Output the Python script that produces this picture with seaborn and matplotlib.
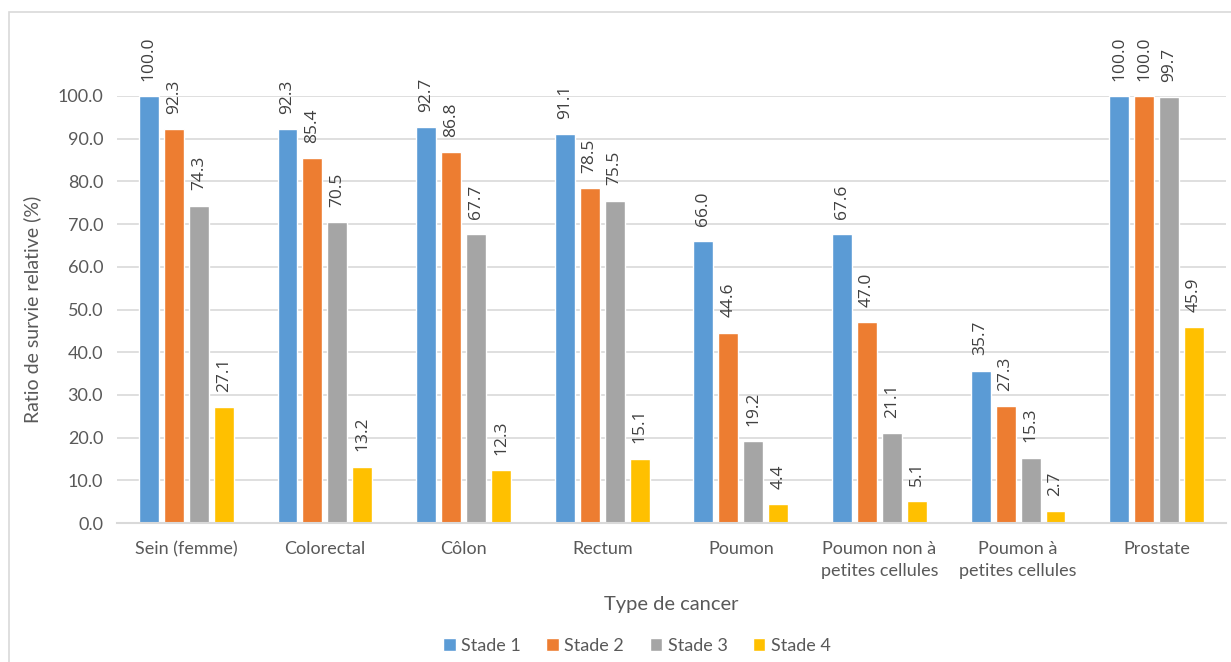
import numpy as np
import pandas as pd
import matplotlib
matplotlib.use("Agg")
import matplotlib.pyplot as plt
from matplotlib.patches import Rectangle
import seaborn as sns

categories = ["Sein (femme)", "Colorectal", "Côlon", "Rectum", "Poumon",
              "Poumon non à\npetites cellules", "Poumon à\npetites cellules", "Prostate"]
stades = ["Stade 1", "Stade 2", "Stade 3", "Stade 4"]
stade1 = [100.0, 92.3, 92.7, 91.1, 66.0, 67.6, 35.7, 100.0]
stade2 = [92.3, 85.4, 86.8, 78.5, 44.6, 47.0, 27.3, 100.0]
stade3 = [74.3, 70.5, 67.7, 75.5, 19.2, 21.1, 15.3, 99.7]
stade4 = [27.1, 13.2, 12.3, 15.1, 4.4, 5.1, 2.7, 45.9]
y_ticks = [0, 10, 20, 30, 40, 50, 60, 70, 80, 90, 100]
colors = ["#5B9BD5", "#ED7D31", "#A5A5A5", "#FFC000"]

rows = []
for stade, vals in zip(stades, [stade1, stade2, stade3, stade4]):
    for cat, v in zip(categories, vals):
        rows.append({"Type de cancer": cat, "Stade": stade, "Valeur": v})
df = pd.DataFrame(rows)

sns.set_theme(style="white")
plt.rcParams["font.family"] = ["Lato", "DejaVu Sans"]

W, H = 1231, 662
fig = plt.figure(figsize=(W / 100, H / 100), dpi=100)
ax = fig.add_axes([117 / W, 1 - 523 / H, (1226 - 117) / W, (523 - 96) / H])

sns.barplot(data=df, x="Type de cancer", y="Valeur", hue="Stade",
            order=categories, hue_order=stades, palette=colors,
            width=0.72, gap=0.2, saturation=1, ax=ax, legend=True)

ax.set_ylim(0, 100)
ax.set_xlim(-0.5, len(categories) - 0.5)
ax.set_yticks(y_ticks)
ax.set_yticklabels([f"{t:.1f}" for t in y_ticks])
ax.yaxis.grid(True, color="#D9D9D9", linewidth=1.2)
ax.set_axisbelow(True)
for side in ["top", "right", "left"]:
    ax.spines[side].set_visible(False)
ax.spines["bottom"].set_color("#D9D9D9")
ax.spines["bottom"].set_linewidth(1.5)
ax.tick_params(axis="both", length=0, labelsize=13, labelcolor="#595959")
ax.tick_params(axis="x", pad=13)
ax.tick_params(axis="y", pad=10)
for lbl in ax.get_xticklabels():
    lbl.set_linespacing(1.45)

ax.set_xlabel("Type de cancer", fontsize=14.5, color="#595959", labelpad=12)
ax.set_ylabel("Ratio de survie relative (%)", fontsize=14, color="#595959", labelpad=12)

# value labels above every bar, rotated
for container in ax.containers:
    for bar in container:
        h = bar.get_height()
        ax.annotate(f"{h:.1f}", (bar.get_x() + bar.get_width() / 2, h),
                    xytext=(0, 11), textcoords="offset points",
                    rotation=90, ha="center", va="bottom",
                    fontsize=12.5, color="#404040", clip_on=False,
                    family=["Open Sans", "DejaVu Sans"])

handles, labels = ax.get_legend_handles_labels()
ax.legend_.remove()
fig.legend(handles, labels, loc="center", bbox_to_anchor=(637 / W, 1 - 646 / H),
           ncol=4, frameon=False, fontsize=13, handlelength=0.7, handleheight=0.7,
           handletextpad=0.3, columnspacing=1.4, labelcolor="#595959")

# outer chart frame
fig.patches.append(Rectangle((9 / W, -0.05), 1.1, 1 - 12 / H + 0.05,
                             transform=fig.transFigure, fill=False,
                             edgecolor="#D9D9D9", linewidth=1.2))

fig.savefig("out.png", dpi=100)
